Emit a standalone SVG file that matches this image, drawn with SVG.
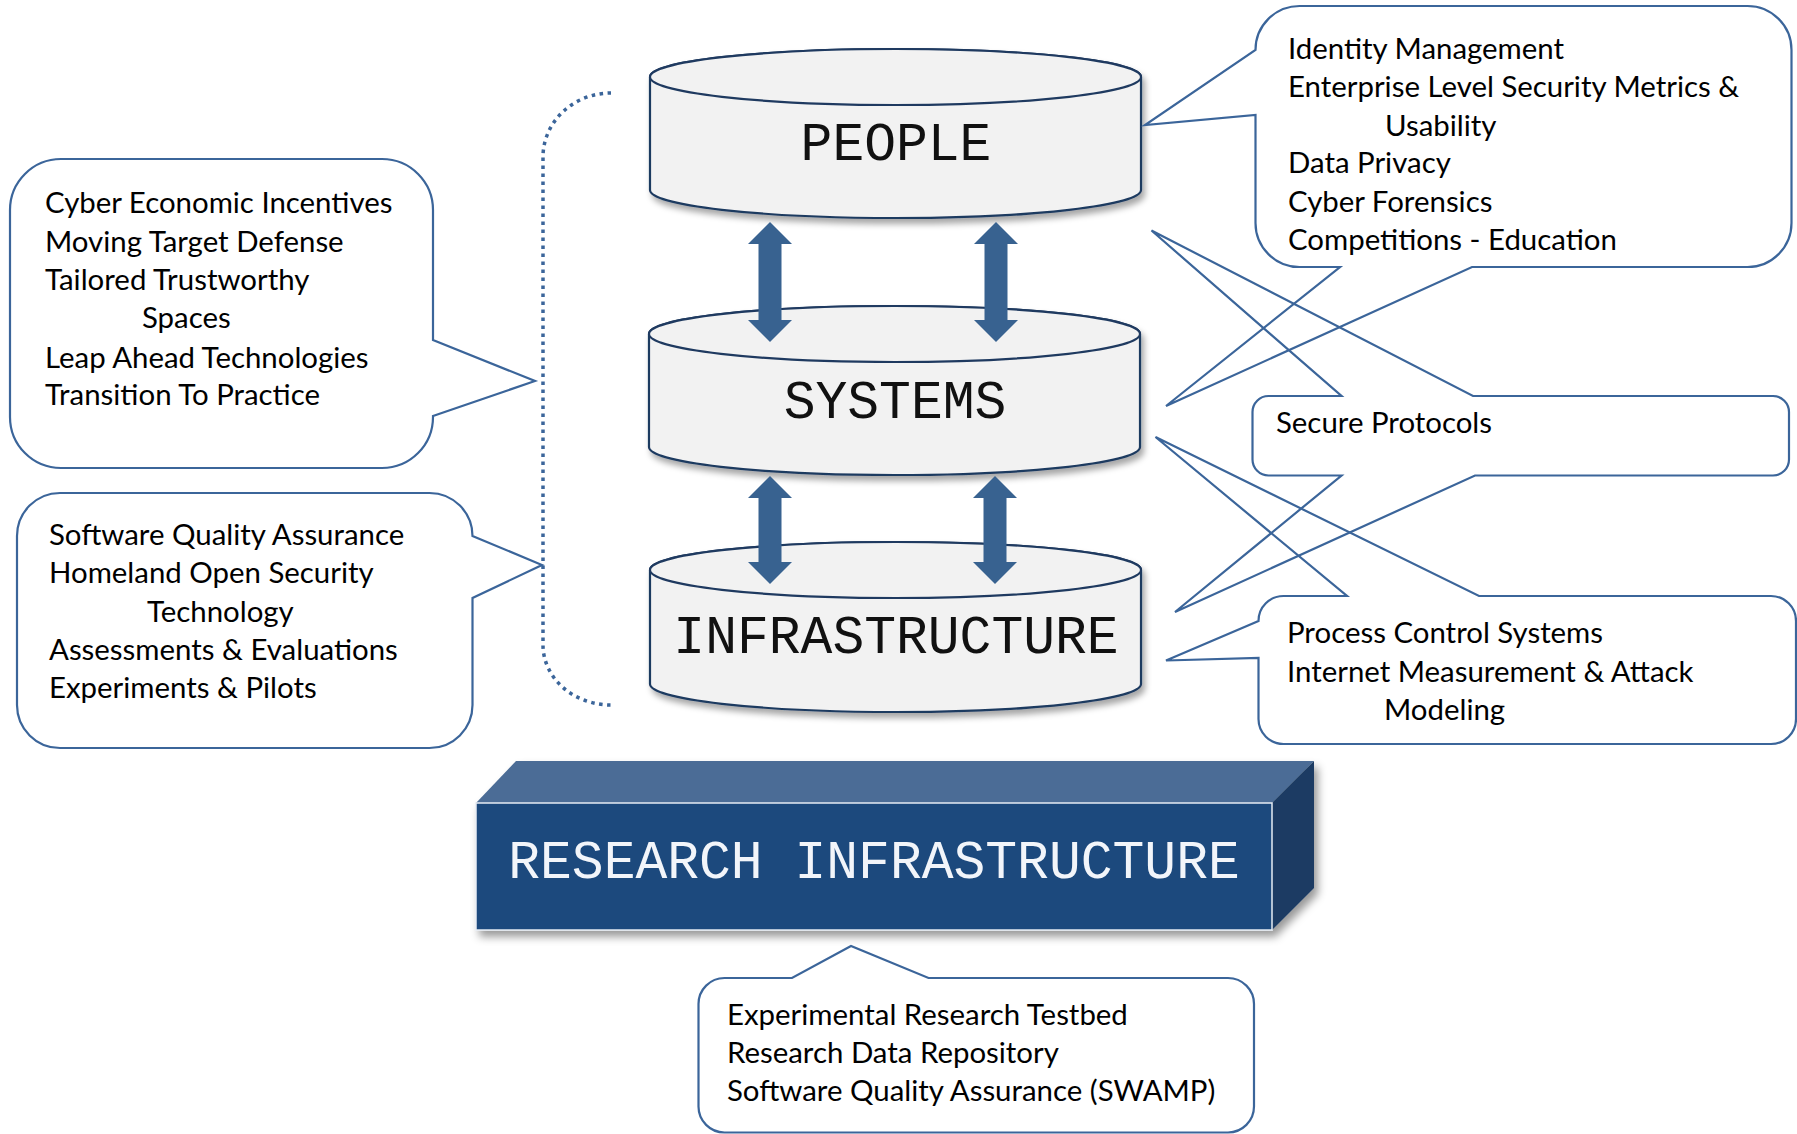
<svg xmlns="http://www.w3.org/2000/svg" width="1797" height="1134" viewBox="0 0 1797 1134">
<style>
.cyl{fill:#F2F2F2;stroke:#1F3A60;stroke-width:2.2}
.lbl{font-family:"Liberation Mono","Courier New",monospace;font-size:53px;fill:#111;text-anchor:middle}
.co{fill:none;stroke:#3B659A;stroke-width:2.2;stroke-linejoin:miter}
.t{font-family:Lato,"Open Sans","Liberation Sans",sans-serif;font-size:29.4px;fill:#000}
.arr{fill:#386290}
</style>
<defs>
<filter id="sh" x="-10%" y="-20%" width="130%" height="150%">
<feDropShadow dx="3" dy="5" stdDeviation="3" flood-color="#000" flood-opacity="0.35"/>
</filter>
<filter id="sh2" x="-10%" y="-20%" width="130%" height="150%">
<feDropShadow dx="4" dy="6" stdDeviation="4" flood-color="#000" flood-opacity="0.4"/>
</filter>
</defs>
<rect width="1797" height="1134" fill="#fff"/>

<g id="bracket">
<path d="M611,93 A68,64 0 0 0 543,157 V645 A68,60 0 0 0 611,705" fill="none" stroke="#3B659A" stroke-width="3.5" stroke-dasharray="3.5 4.5"/>
</g>

<g id="people">
<g filter="url(#sh)">
<path class="cyl" d="M650,77 V190 A245.5,28 0 0 0 1141,190 V77 A245.5,28 0 0 0 650,77 Z"/>
</g>
<ellipse class="cyl" cx="895.5" cy="77" rx="245.5" ry="28"/>
<text class="lbl" x="896" y="160">PEOPLE</text>
</g>

<g id="systems">
<g filter="url(#sh)">
<path class="cyl" d="M649,334 V447 A245.5,28 0 0 0 1140,447 V334 A245.5,28 0 0 0 649,334 Z"/>
</g>
<ellipse class="cyl" cx="894.5" cy="334" rx="245.5" ry="28"/>
<text class="lbl" x="895" y="418">SYSTEMS</text>
</g>

<g id="infrastructure">
<g filter="url(#sh)">
<path class="cyl" d="M650,570 V684 A245.5,28 0 0 0 1141,684 V570 A245.5,28 0 0 0 650,570 Z"/>
</g>
<ellipse class="cyl" cx="895.5" cy="570" rx="245.5" ry="28"/>
<text class="lbl" x="896" y="653">INFRASTRUCTURE</text>
</g>

<g id="research-infrastructure">
<g filter="url(#sh2)">
<polygon points="476,803 1272,803 1314,761 516,761" fill="#4B6C96"/>
<polygon points="1272,803 1314,761 1314,888 1272,930" fill="#1B3A63"/>
<rect x="476" y="803" width="796" height="127" fill="#1F497D" stroke="#E6ECF3" stroke-width="1.5"/>
</g>
<text class="lbl" x="874" y="878" style="fill:#F2F5FA">RESEARCH INFRASTRUCTURE</text>
</g>

<g id="connectors">
<polygon class="arr" points="770,222 792,244 781.5,244 781.5,320 792,320 770,342 748,320 758.5,320 758.5,244 748,244"/>
<polygon class="arr" points="996,222 1018,244 1007.5,244 1007.5,320 1018,320 996,342 974,320 984.5,320 984.5,244 974,244"/>
<polygon class="arr" points="770,476 792,498 781.5,498 781.5,562 792,562 770,584 748,562 758.5,562 758.5,498 748,498"/>
<polygon class="arr" points="995,476 1017,498 1006.5,498 1006.5,562 1017,562 995,584 973,562 983.5,562 983.5,498 973,498"/>
</g>

<g id="callout-left-top">
<path class="co" d="M61,159 H382 A51,51 0 0 1 433,210 V340 L535,381 L433,416 V417 A51,51 0 0 1 382,468 H61 A51,51 0 0 1 10,417 V210 A51,51 0 0 1 61,159 Z"/>
<text class="t" x="45" y="213">Cyber Economic Incentives</text>
<text class="t" x="45" y="252">Moving Target Defense</text>
<text class="t" x="45" y="290">Tailored Trustworthy</text>
<text class="t" x="142" y="328">Spaces</text>
<text class="t" x="45" y="368">Leap Ahead Technologies</text>
<text class="t" x="45" y="405">Transition To Practice</text>
</g>

<g id="callout-left-bottom">
<path class="co" d="M60,493 H429.5 A43,43 0 0 1 472.5,536 L542,565 L472.5,598 V705 A43,43 0 0 1 429.5,748 H60 A43,43 0 0 1 17,705 V536 A43,43 0 0 1 60,493 Z"/>
<text class="t" x="49" y="545">Software Quality Assurance</text>
<text class="t" x="49" y="583">Homeland Open Security</text>
<text class="t" x="147" y="622">Technology</text>
<text class="t" x="49" y="660">Assessments &amp; Evaluations</text>
<text class="t" x="49" y="698">Experiments &amp; Pilots</text>
</g>

<g id="callout-people">
<path class="co" d="M1299.5,6 H1747.5 A44,44 0 0 1 1791.5,50 V223 A44,44 0 0 1 1747.5,267 H1472 L1166,406 L1340,267 H1299.5 A44,44 0 0 1 1255.5,223 V115 L1145,125 L1255.5,50 A44,44 0 0 1 1299.5,6 Z"/>
<text class="t" x="1288" y="59">Identity Management</text>
<text class="t" x="1288" y="97">Enterprise Level Security Metrics &amp;</text>
<text class="t" x="1385" y="136">Usability</text>
<text class="t" x="1288" y="173">Data Privacy</text>
<text class="t" x="1288" y="212">Cyber Forensics</text>
<text class="t" x="1288" y="250">Competitions - Education</text>
</g>

<g id="callout-systems">
<path class="co" d="M1268.5,396 H1341.5 L1151.5,230.5 L1473,396 H1773 A16,16 0 0 1 1789,412 V459.5 A16,16 0 0 1 1773,475.5 H1475 L1175,612 L1341.5,475.5 H1268.5 A16,16 0 0 1 1252.5,459.5 V412 A16,16 0 0 1 1268.5,396 Z"/>
<text class="t" x="1276" y="433">Secure Protocols</text>
</g>

<g id="callout-infrastructure">
<path class="co" d="M1283.5,596 H1347 L1155.5,437 L1479,596 H1771 A25,25 0 0 1 1796,621 V719 A25,25 0 0 1 1771,744 H1283.5 A25,25 0 0 1 1258.5,719 V658 L1166,660.5 L1258.5,621 A25,25 0 0 1 1283.5,596 Z"/>
<text class="t" x="1287" y="643">Process Control Systems</text>
<text class="t" x="1287" y="682">Internet Measurement &amp; Attack</text>
<text class="t" x="1384" y="720">Modeling</text>
</g>

<g id="callout-research">
<path class="co" d="M724.5,978 H792 L851,946 L928.5,978 H1228 A26,26 0 0 1 1254,1004 V1106.5 A26,26 0 0 1 1228,1132.5 H724.5 A26,26 0 0 1 698.5,1106.5 V1004 A26,26 0 0 1 724.5,978 Z"/>
<text class="t" x="727" y="1025">Experimental Research Testbed</text>
<text class="t" x="727" y="1063">Research Data Repository</text>
<text class="t" x="727" y="1101">Software Quality Assurance (SWAMP)</text>
</g>
</svg>
